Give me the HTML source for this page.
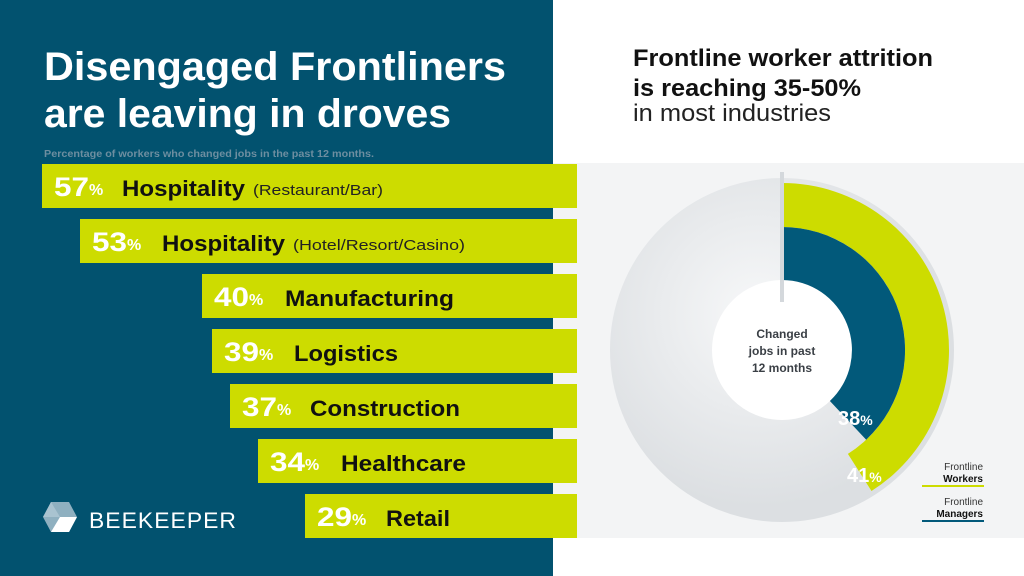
<!DOCTYPE html>
<html><head><meta charset="utf-8"><style>
html,body{margin:0;padding:0;background:#fff}
svg{display:block}
text{font-family:"Liberation Sans",sans-serif}
</style></head><body>
<svg width="1024" height="576" viewBox="0 0 1024 576" xmlns="http://www.w3.org/2000/svg">
<defs>
<radialGradient id="gb" cx="0.4" cy="0.35" r="0.8">
<stop offset="0" stop-color="#f7f8f9"/><stop offset="1" stop-color="#dcdfe2"/>
</radialGradient>
</defs>
<rect x="0" y="0" width="1024" height="576" fill="#fff"/>
<rect x="553" y="163" width="471" height="375" fill="#f3f4f5"/>
<rect x="0" y="0" width="553" height="576" fill="#02526f"/>

<text x="44" y="80" fill="#fff" font-size="40" font-weight="bold" textLength="462" lengthAdjust="spacingAndGlyphs">Disengaged Frontliners</text>
<text x="44" y="127" fill="#fff" font-size="40" font-weight="bold" textLength="407" lengthAdjust="spacingAndGlyphs">are leaving in droves</text>
<text x="44" y="157" fill="#6d8ea0" font-size="10" font-weight="bold" textLength="330" lengthAdjust="spacingAndGlyphs">Percentage of workers who changed jobs in the past 12 months.</text>

<text x="633" y="66" fill="#111" font-size="24" font-weight="bold" textLength="300" lengthAdjust="spacingAndGlyphs">Frontline worker attrition</text>
<text x="633" y="96" fill="#111" font-size="24" font-weight="bold" textLength="228" lengthAdjust="spacingAndGlyphs">is reaching 35-50%</text>
<text x="633" y="121" fill="#222" font-size="24" textLength="198" lengthAdjust="spacingAndGlyphs">in most industries</text>

<g font-weight="bold">
<rect x="42" y="164" width="535" height="44" fill="#cddc00"/>
<text x="54" y="196" fill="#fff" font-size="27" textLength="35" lengthAdjust="spacingAndGlyphs">57</text><text x="89" y="195" fill="#fff" font-size="16">%</text>
<text x="122" y="196" fill="#111" font-size="22" textLength="123" lengthAdjust="spacingAndGlyphs">Hospitality</text>
<text x="253" y="195" fill="#222" font-size="15" font-weight="normal" textLength="130" lengthAdjust="spacingAndGlyphs">(Restaurant/Bar)</text>

<rect x="80" y="219" width="497" height="44" fill="#cddc00"/>
<text x="92" y="251" fill="#fff" font-size="27" textLength="35" lengthAdjust="spacingAndGlyphs">53</text><text x="127" y="250" fill="#fff" font-size="16">%</text>
<text x="162" y="251" fill="#111" font-size="22" textLength="123" lengthAdjust="spacingAndGlyphs">Hospitality</text>
<text x="293" y="250" fill="#222" font-size="15" font-weight="normal" textLength="172" lengthAdjust="spacingAndGlyphs">(Hotel/Resort/Casino)</text>

<rect x="202" y="274" width="375" height="44" fill="#cddc00"/>
<text x="214" y="306" fill="#fff" font-size="27" textLength="35" lengthAdjust="spacingAndGlyphs">40</text><text x="249" y="305" fill="#fff" font-size="16">%</text>
<text x="285" y="306" fill="#111" font-size="22" textLength="169" lengthAdjust="spacingAndGlyphs">Manufacturing</text>

<rect x="212" y="329" width="365" height="44" fill="#cddc00"/>
<text x="224" y="361" fill="#fff" font-size="27" textLength="35" lengthAdjust="spacingAndGlyphs">39</text><text x="259" y="360" fill="#fff" font-size="16">%</text>
<text x="294" y="361" fill="#111" font-size="22" textLength="104" lengthAdjust="spacingAndGlyphs">Logistics</text>

<rect x="230" y="384" width="347" height="44" fill="#cddc00"/>
<text x="242" y="416" fill="#fff" font-size="27" textLength="35" lengthAdjust="spacingAndGlyphs">37</text><text x="277" y="415" fill="#fff" font-size="16">%</text>
<text x="310" y="416" fill="#111" font-size="22" textLength="150" lengthAdjust="spacingAndGlyphs">Construction</text>

<rect x="258" y="439" width="319" height="44" fill="#cddc00"/>
<text x="270" y="471" fill="#fff" font-size="27" textLength="35" lengthAdjust="spacingAndGlyphs">34</text><text x="305" y="470" fill="#fff" font-size="16">%</text>
<text x="341" y="471" fill="#111" font-size="22" textLength="125" lengthAdjust="spacingAndGlyphs">Healthcare</text>

<rect x="305" y="494" width="272" height="44" fill="#cddc00"/>
<text x="317" y="526" fill="#fff" font-size="27" textLength="35" lengthAdjust="spacingAndGlyphs">29</text><text x="352" y="525" fill="#fff" font-size="16">%</text>
<text x="386" y="526" fill="#111" font-size="22" textLength="64" lengthAdjust="spacingAndGlyphs">Retail</text>
</g>

<!-- logo -->
<polygon points="51,502 69,502 77,517 69,532 51,532 43,517" fill="#8fb0c0"/>
<polygon points="60,517 77,517 69,532 51,532" fill="#fff"/>
<polygon points="51,502 60,517 43,517" fill="#a9c3d0"/>
<text x="89" y="528" fill="#fff" font-size="22" textLength="148" lengthAdjust="spacingAndGlyphs" letter-spacing="1">BEEKEEPER</text>

<!-- donut -->
<circle cx="782" cy="350" r="121" fill="none" stroke="url(#gb)" stroke-width="102"/>
<circle cx="782" cy="350" r="70" fill="#fff"/>
<path d="M782 183 A167 167 0 0 1 871.5 491 L847.9 453.9 A123 123 0 0 0 782 227 Z" fill="#cddc00"/>
<path d="M782 227 A123 123 0 0 1 866.2 439.7 L829.9 401 A70 70 0 0 0 782 280 Z" fill="#02597a"/>
<rect x="780" y="172" width="4" height="130" fill="#d4d8dc"/>
<text x="782" y="338" text-anchor="middle" fill="#3a3f45" font-size="12" font-weight="bold">Changed</text>
<text x="782" y="355" text-anchor="middle" fill="#3a3f45" font-size="12" font-weight="bold">jobs in past</text>
<text x="782" y="372" text-anchor="middle" fill="#3a3f45" font-size="12" font-weight="bold">12 months</text>
<text x="838" y="425" fill="#fff" font-size="20" font-weight="bold">38<tspan font-size="14">%</tspan></text>
<text x="847" y="482" fill="#fff" font-size="20" font-weight="bold">41<tspan font-size="14">%</tspan></text>

<text x="983" y="470" text-anchor="end" fill="#333" font-size="10">Frontline</text>
<text x="983" y="482" text-anchor="end" fill="#111" font-size="10" font-weight="bold">Workers</text>
<rect x="922" y="485" width="62" height="2" fill="#cddc00"/>
<text x="983" y="505" text-anchor="end" fill="#333" font-size="10">Frontline</text>
<text x="983" y="517" text-anchor="end" fill="#111" font-size="10" font-weight="bold">Managers</text>
<rect x="922" y="520" width="62" height="2" fill="#02597a"/>
</svg>
</body></html>
